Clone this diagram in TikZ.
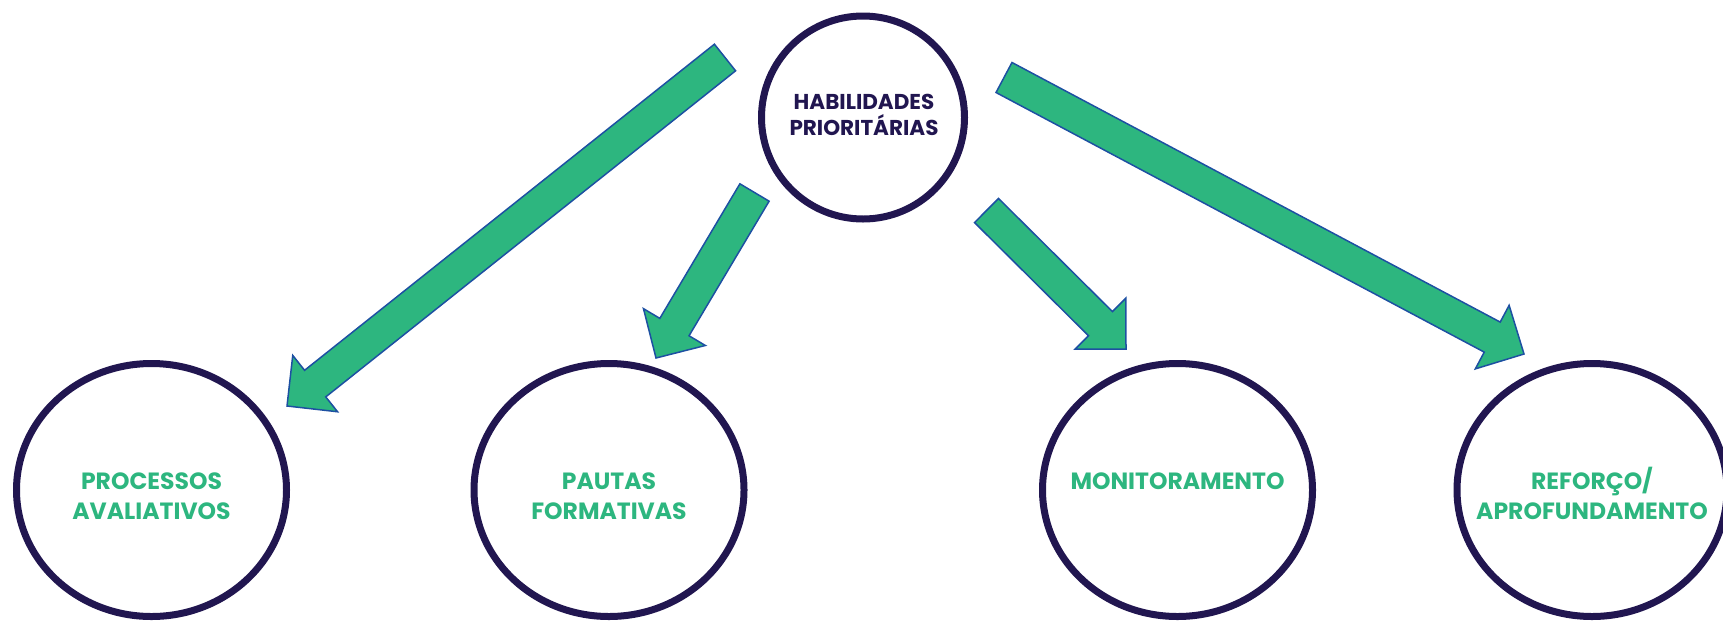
\documentclass[tikz,border=0pt]{standalone}
\usepackage{fontspec}
\setmainfont{Poppins}
\usetikzlibrary{calc,shapes.geometric}
\definecolor{navy}{HTML}{211650}
\definecolor{leaf}{HTML}{2DB67F}
\definecolor{edgeblue}{HTML}{1D50A2}

\begin{document}
\begin{tikzpicture}[x=1pt,y=-1pt,
ring/.style={draw=navy, line width=7pt, inner sep=0},
lbl/.style={inner sep=0, align=center, text=leaf, font=\bfseries\fontsize{23.5}{30}\selectfont},
barrow/.style={fill=leaf, draw=edgeblue, line width=1.5pt, line join=miter}]
	\useasboundingbox (0,0) rectangle (1723,622);

	% block arrows: tail and tip of each
	\coordinate (t1) at (725,57.5);   \coordinate (h1) at (287,406);
	\coordinate (t2) at (754.5,192.5); \coordinate (h2) at (656,358);
	\coordinate (t3) at (986.5,210.5); \coordinate (h3) at (1126,349);
	\coordinate (t4) at (1004,77.5);  \coordinate (h4) at (1524,354);
	\foreach \i in {1,...,4} {
		\coordinate (b\i) at ($(h\i)!36pt!(t\i)$);
		\draw[barrow] ($(t\i)!17pt!90:(h\i)$) -- ($(b\i)!17pt!90:(h\i)$) -- ($(b\i)!36pt!90:(h\i)$) -- (h\i)
			-- ($(b\i)!36pt!-90:(h\i)$) -- ($(b\i)!17pt!-90:(h\i)$) -- ($(t\i)!17pt!-90:(h\i)$) -- cycle;
	}

	\node[ring, circle, minimum size=203pt] at (863,117.5) (hab) {};
	\node[ring, ellipse, minimum width=270pt, minimum height=253pt] at (151.5,490) (proc) {};
	\node[ring, ellipse, minimum width=270pt, minimum height=253pt] at (609,490) (paut) {};
	\node[ring, ellipse, minimum width=270pt, minimum height=253pt] at (1177.5,490) (mon) {};
	\node[ring, ellipse, minimum width=270pt, minimum height=253pt] at (1592,490) (ref) {};

	\node[lbl, text=navy, font=\bfseries\fontsize{21.5}{25.6}\selectfont, anchor=south] at (864,135.6) (habt) {HABILIDADES\\PRIORITÁRIAS};
	\node[lbl, anchor=south] at (151.5,520) (proct) {PROCESSOS\\AVALIATIVOS};
	\node[lbl, anchor=south] at (609,520) (pautt) {PAUTAS\\FORMATIVAS};
	\node[lbl, anchor=south] at (1177.5,490) (mont) {MONITORAMENTO};
	\node[lbl, anchor=south] at (1592,520) (reft) {REFORÇO/\\APROFUNDAMENTO};
\end{tikzpicture}
\end{document}
